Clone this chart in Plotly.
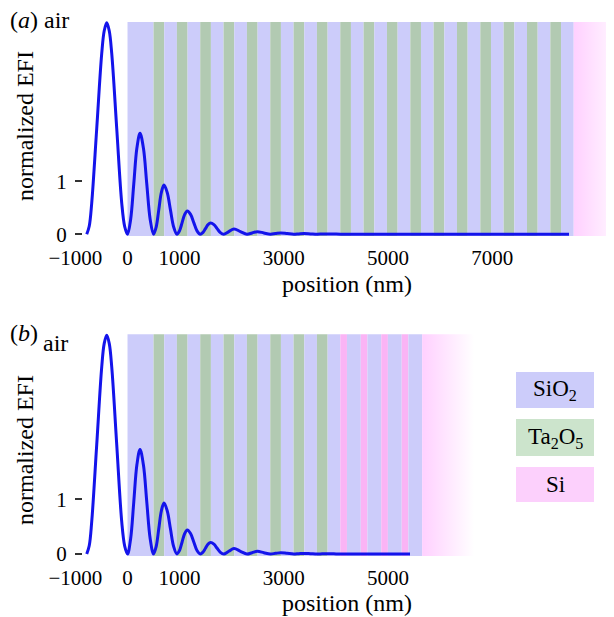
import plotly.graph_objects as go

# ---------------- data ----------------
# normalized EFI profile, panel (a)
pos_a = [-783, -735, -687, -591, -495, -447, -399, -351, -303, -207, -111, -55, 0,
         60, 120, 180, 240, 305, 370, 435, 500,
         550, 600, 650, 700, 762, 824, 886, 948,
         998, 1048, 1098, 1148, 1210, 1272, 1334, 1396,
         1446, 1496, 1546, 1596, 1658, 1720, 1782, 1844,
         1944, 2044, 2168, 2292,
         2392, 2492, 2616, 2740,
         2840, 2940, 3064, 3188,
         3288, 3388, 3512, 3636,
         3736, 3836, 3960, 4084,
         5000, 6000, 7000, 8474]
efi_a = [0, 0.15, 0.59, 2.0, 3.42, 3.85, 4.0, 3.85, 3.42, 2.0, 0.59, 0.15, 0,
         0.28, 0.95, 1.63, 1.91, 1.63, 0.95, 0.28, 0,
         0.136, 0.46, 0.79, 0.93, 0.79, 0.46, 0.136, 0,
         0.064, 0.22, 0.375, 0.44, 0.375, 0.22, 0.064, 0,
         0.031, 0.105, 0.18, 0.21, 0.18, 0.105, 0.031, 0,
         0.05, 0.10, 0.05, 0,
         0.024, 0.048, 0.024, 0,
         0.012, 0.023, 0.012, 0,
         0.006, 0.011, 0.006, 0,
         0.003, 0.005, 0.003, 0,
         0, 0, 0, 0]

# panel (b)
pos_b = [-783, -735, -687, -591, -495, -447, -399, -351, -303, -207, -111, -55, 0,
         60, 120, 180, 240, 305, 370, 435, 500,
         550, 600, 650, 700, 762, 824, 886, 948,
         998, 1048, 1098, 1148, 1210, 1272, 1334, 1396,
         1446, 1496, 1546, 1596, 1658, 1720, 1782, 1844,
         1944, 2044, 2168, 2292,
         2392, 2492, 2616, 2740,
         2840, 2940, 3064, 3188,
         3288, 3388, 3512, 3636,
         3736, 3836, 3960, 4084,
         4700, 5422]
efi_b = [0, 0.15, 0.59, 2.0, 3.42, 3.85, 4.0, 3.85, 3.42, 2.0, 0.59, 0.15, 0,
         0.28, 0.95, 1.63, 1.91, 1.63, 0.95, 0.28, 0,
         0.136, 0.46, 0.79, 0.93, 0.79, 0.46, 0.136, 0,
         0.064, 0.22, 0.375, 0.44, 0.375, 0.22, 0.064, 0,
         0.031, 0.105, 0.18, 0.21, 0.18, 0.105, 0.031, 0,
         0.05, 0.10, 0.05, 0,
         0.024, 0.048, 0.024, 0,
         0.012, 0.023, 0.012, 0,
         0.006, 0.011, 0.006, 0,
         0.003, 0.005, 0.003, 0,
         0, 0]

# layer stack (nm)
cap_sio2 = 500
ta2o5_thick = 205
sio2_thick = 243
n_pairs_a = 18
n_pairs_b = 8
si_thick = 128
sio2_b_thick = 265
n_si_b = 4
substrate_fade = 1000

x_ticks_a = [-1000, 0, 1000, 3000, 5000, 7000]
x_ticks_b = [-1000, 0, 1000, 3000, 5000]
y_ticks = [0, 1]

# ---------------- styles ----------------
FONT = "Liberation Serif"
C_SIO2 = "rgb(204,204,250)"
C_TA = "rgb(178,202,178)"
C_SI = "rgb(250,180,245)"
C_SUB = "rgb(255,208,255)"
C_LINE = "rgb(20,20,235)"
L_SIO2 = "rgb(204,204,250)"
L_TA = "rgb(204,228,204)"
L_SI = "rgb(252,208,252)"

# the page adds an 8px body margin; figure is sized to fill the rest
OFF = 8
W, H = 614 - OFF, 617 - OFF
XR = [-1104, 9338]
YR = [-0.1097, 4.186]
BAND_Y0, BAND_Y1 = -0.035, 4.016


def py(p):
    return 1 - (p - OFF) / H


def pxx(p):
    return (p - OFF) / W


fig = go.Figure()
shapes = []


def add_stack(xref, yref, n_pairs, extra_si):
    layers = []
    pos = 0
    layers.append((pos, pos + cap_sio2, C_SIO2))
    pos += cap_sio2
    for _ in range(n_pairs):
        layers.append((pos, pos + ta2o5_thick, C_TA))
        pos += ta2o5_thick
        layers.append((pos, pos + sio2_thick, C_SIO2))
        pos += sio2_thick
    for _ in range(extra_si):
        layers.append((pos, pos + si_thick, C_SI))
        pos += si_thick
        layers.append((pos, pos + sio2_b_thick, C_SIO2))
        pos += sio2_b_thick
    for x0, x1, c in layers:
        shapes.append(dict(type="rect", xref=xref, yref=yref, x0=x0, x1=x1,
                           y0=BAND_Y0, y1=BAND_Y1, fillcolor=c,
                           line=dict(width=0), layer="below"))
    return pos


end_a = add_stack("x", "y", n_pairs_a, 0)
end_b = add_stack("x2", "y2", n_pairs_b, n_si_b)

for end, xa, ya in [(end_a, "x", "y"), (end_b, "x2", "y2")]:
    x1 = end + substrate_fade
    fig.add_trace(go.Scatter(
        x=[end, x1, x1, end, end],
        y=[BAND_Y0, BAND_Y0, BAND_Y1, BAND_Y1, BAND_Y0],
        fill="toself", mode="lines", line=dict(width=0),
        fillgradient=dict(type="horizontal",
                          colorscale=[[0, C_SUB], [1, "rgb(255,255,255)"]]),
        hoverinfo="skip", showlegend=False, xaxis=xa, yaxis=ya))

fig.add_trace(go.Scatter(x=pos_a, y=efi_a, mode="lines",
                         line=dict(color=C_LINE, width=3, shape="spline", smoothing=1),
                         showlegend=False, xaxis="x", yaxis="y"))
fig.add_trace(go.Scatter(x=pos_b, y=efi_b, mode="lines",
                         line=dict(color=C_LINE, width=3, shape="spline", smoothing=1),
                         showlegend=False, xaxis="x2", yaxis="y2"))

xdom = [pxx(70), 1]
axis_font = dict(family=FONT, size=21, color="black")
common_x = dict(range=XR, showgrid=False, zeroline=False, showline=False,
                ticks="", tickfont=axis_font, ticklabelstandoff=3, automargin=False)
common_y = dict(range=YR, showgrid=False, zeroline=False, showline=False,
                ticks="outside", ticklen=7, tickwidth=1.5, tickcolor="#333",
                tickvals=y_ticks, ticktext=[str(v) for v in y_ticks],
                tickfont=axis_font, ticklabelstandoff=4, automargin=False,
                anchor="free", position=pxx(82))

fig.update_layout(
    width=W, height=H, margin=dict(l=0, r=0, t=0, b=0),
    paper_bgcolor="white", plot_bgcolor="rgba(0,0,0,0)",
    xaxis=dict(domain=xdom, anchor="y", tickvals=x_ticks_a, **common_x),
    yaxis=dict(domain=[py(240), py(5 + OFF)], **common_y),
    xaxis2=dict(domain=xdom, anchor="y2", tickvals=x_ticks_b, **common_x),
    yaxis2=dict(domain=[py(560), py(325)], **common_y),
    shapes=shapes,
)

# legend boxes
legend_items = [("SiO<sub>2</sub>", L_SIO2, 372, 408),
                ("Ta<sub>2</sub>O<sub>5</sub>", L_TA, 419, 456),
                ("Si", L_SI, 467, 502)]
anns = []
for txt, col, t, b in legend_items:
    fig.add_shape(type="rect", xref="paper", yref="paper", x0=pxx(516), x1=pxx(594),
                  y0=py(b), y1=py(t), fillcolor=col, line=dict(width=0), layer="below")
    anns.append(dict(text=txt, x=pxx(555), y=py((t + b) / 2), xref="paper", yref="paper",
                     showarrow=False, font=dict(family=FONT, size=23, color="black"),
                     xanchor="center", yanchor="middle"))

tfont = dict(family=FONT, size=24, color="black")
anns += [
    dict(text="(<i>a</i>) air", x=pxx(8), y=py(20), xanchor="left", yanchor="middle"),
    dict(text="(<i>b</i>)", x=pxx(8), y=py(333), xanchor="left", yanchor="middle"),
    dict(text="air", x=pxx(41), y=py(343), xanchor="left", yanchor="middle"),
    dict(text="normalized EFI", x=pxx(25), y=py(126), textangle=-90,
         xanchor="center", yanchor="middle"),
    dict(text="normalized EFI", x=pxx(25), y=py(450), textangle=-90,
         xanchor="center", yanchor="middle"),
    dict(text="position (nm)", x=pxx(347), y=py(284), xanchor="center", yanchor="middle"),
    dict(text="position (nm)", x=pxx(347), y=py(603), xanchor="center", yanchor="middle"),
]
for a in anns:
    a.setdefault("xref", "paper")
    a.setdefault("yref", "paper")
    a.setdefault("showarrow", False)
    a.setdefault("font", tfont)
fig.update_layout(annotations=anns)

fig.write_html("out.html")
